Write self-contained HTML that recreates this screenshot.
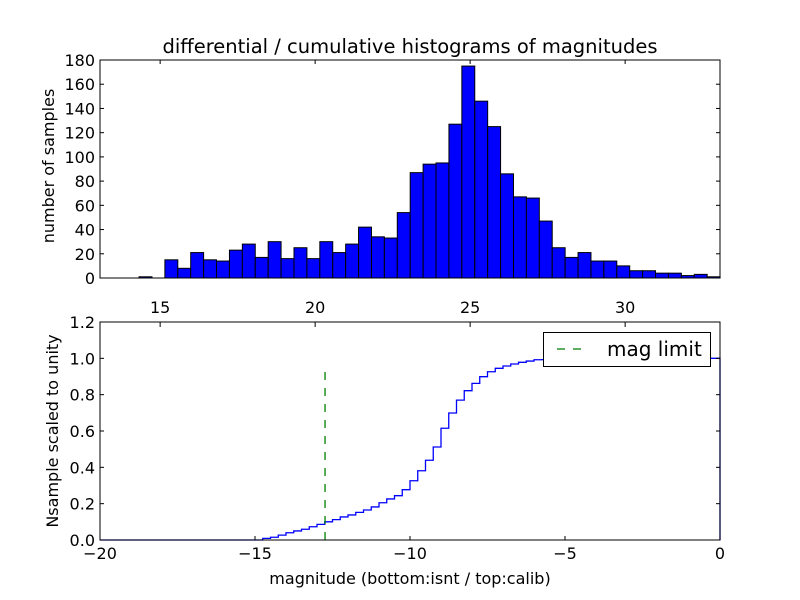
<!DOCTYPE html>
<html><head><meta charset="utf-8"><style>
html,body{margin:0;padding:0;background:#fff}
svg{display:block;font-family:"DejaVu Sans","Liberation Sans",sans-serif}
</style></head><body>
<svg id="chart" width="800" height="600" viewBox="0 0 800 600" xmlns="http://www.w3.org/2000/svg">
<rect width="800" height="600" fill="#fff"/>
<g id="topgrp"></g>
<g id="botgrp"></g>
</svg>
<script>
// top histogram data
const histBinStart = 14.32;
const histBinWidth = 0.4165;
const histCounts = [1,0,15,8,21,15,14,23,28,17,30,16,25,16,30,21,28,42,34,33,54,87,94,95,127,175,146,125,86,67,66,47,25,17,21,14,14,10,6,6,4,4,2,3,1];
const topYTicks = [0,20,40,60,80,100,120,140,160,180];
const calibTicks = [15,20,25,30];
// bottom cumulative data
const cumStart = -14.75;
const cumStep = 0.25;
const cumValues = [0.009,0.015,0.027,0.04,0.05,0.059,0.073,0.086,0.10,0.112,0.127,0.138,0.152,0.165,0.182,0.205,0.226,0.244,0.277,0.326,0.381,0.439,0.512,0.615,0.699,0.77,0.822,0.862,0.899,0.926,0.945,0.958,0.969,0.978,0.985,0.992,0.993,0.994,0.995,0.995,0.996,0.996,0.997,0.997,0.997,0.998,0.998,0.998,0.999,0.999,0.999,0.999,1.0,1.0,1.0,1.0,1.0,1.0,1.0];
const botXTicks = [-20,-15,-10,-5,0];
const botYTicks = [0.0,0.2,0.4,0.6,0.8,1.0,1.2];
const magLimit = -12.74;
const magLimitTop = 0.965;

const SVGNS = 'http://www.w3.org/2000/svg';
function mk(tag, attrs, parent, text){
  const e = document.createElementNS(SVGNS, tag);
  for (const k in attrs) e.setAttribute(k, attrs[k]);
  if (text !== undefined) e.textContent = text;
  parent.appendChild(e);
  return e;
}
const AL = 100, AR = 720;
const TICKFS = 16, LABFS = 16;
// top axes
const tT = 60, tB = 278;
const calX0 = 13.06, calX1 = 33.06;
const cx = v => AL + (v - calX0) / (calX1 - calX0) * (AR - AL);
const ty = v => tB - v / 180 * (tB - tT);
const gTop = document.getElementById('topgrp');
const bars = mk('g', {}, gTop);


histCounts.forEach((c, i) => {
  const x0 = cx(histBinStart + i * histBinWidth), x1 = cx(histBinStart + (i + 1) * histBinWidth);
  const r = mk('rect', {x: x0, y: ty(c), width: x1 - x0, height: tB - ty(c), fill: '#0000ff', stroke: '#000', 'stroke-width': 1}, bars);
  
  
});
const tf = mk('rect', {x: AL, y: tT, width: AR - AL, height: tB - tT, fill: 'none', stroke: '#000', 'stroke-width': 1}, gTop);


topYTicks.forEach(v => {
  const y = ty(v);
  mk('line', {x1: AL, x2: AL + 4, y1: y, y2: y, stroke: '#000'}, gTop);
  mk('line', {x1: AR, x2: AR - 4, y1: y, y2: y, stroke: '#000'}, gTop);
  const t = mk('text', {x: AL - 5, y: y + 6, 'text-anchor': 'end', 'font-size': TICKFS}, gTop, String(v));
  
  
});
calibTicks.forEach(v => {
  const x = cx(v);
  mk('line', {x1: x, x2: x, y1: tT, y2: tT + 4, stroke: '#000'}, gTop);
});
const title = mk('text', {x: 410, y: 53, 'text-anchor': 'middle', 'font-size': 19.5}, gTop, 'differential / cumulative histograms of magnitudes');


const tyl = mk('text', {transform: 'translate(54,166) rotate(-90)', 'text-anchor': 'middle', 'font-size': LABFS}, gTop, 'number of samples');



// bottom axes
const bT = 322, bB = 540;
const bx = v => AL + (v + 20) / 20 * (AR - AL);
const by = v => bB - v / 1.2 * (bB - bT);
const gBot = document.getElementById('botgrp');
let pathD = 'M' + bx(-20) + ',' + by(0) + ' L' + bx(cumStart) + ',' + by(0);
cumValues.forEach((v, i) => {
  const x0 = bx(cumStart + i * cumStep), x1 = bx(cumStart + (i + 1) * cumStep);
  pathD += ' L' + x0 + ',' + by(v) + ' L' + Math.min(x1, AR) + ',' + by(v);
});
pathD += ' L' + AR + ',' + by(0);
const cl = mk('path', {d: pathD, fill: 'none', stroke: '#0000ff', 'stroke-width': 1.3}, gBot);


const ml = mk('line', {x1: bx(magLimit), x2: bx(magLimit), y1: by(0), y2: by(magLimitTop), stroke: '#007f00', 'stroke-width': 1.3, 'stroke-dasharray': '8,8'}, gBot);


const bf = mk('rect', {x: AL, y: bT, width: AR - AL, height: bB - bT, fill: 'none', stroke: '#000', 'stroke-width': 1}, gBot);


botXTicks.forEach(v => {
  const x = bx(v);
  mk('line', {x1: x, x2: x, y1: bB, y2: bB - 4, stroke: '#000'}, gBot);
  const t = mk('text', {x: x, y: bB + 19, 'text-anchor': 'middle', 'font-size': TICKFS}, gBot, v < 0 ? '\u2212' + Math.abs(v) : String(v));
  
  
});
calibTicks.forEach(v => {
  const x = cx(v);
  mk('line', {x1: x, x2: x, y1: bT, y2: bT + 5, stroke: '#000'}, gBot);
  const t = mk('text', {x: x, y: bT - 9, 'text-anchor': 'middle', 'font-size': TICKFS}, gBot, String(v));
  
  
});
botYTicks.forEach(v => {
  const y = by(v);
  mk('line', {x1: AL, x2: AL + 4, y1: y, y2: y, stroke: '#000'}, gBot);
  mk('line', {x1: AR, x2: AR - 4, y1: y, y2: y, stroke: '#000'}, gBot);
  const t = mk('text', {x: AL - 5, y: y + 6, 'text-anchor': 'end', 'font-size': TICKFS}, gBot, v.toFixed(1));
  
  
});
const bxl = mk('text', {x: 410, y: 584, 'text-anchor': 'middle', 'font-size': LABFS}, gBot, 'magnitude (bottom:isnt / top:calib)');


const byl = mk('text', {transform: 'translate(58,431) rotate(-90)', 'text-anchor': 'middle', 'font-size': LABFS}, gBot, 'Nsample scaled to unity');


// legend
const lg = mk('g', {}, gBot);


mk('rect', {x: 543.5, y: 332.5, width: 167, height: 34, fill: '#fff', stroke: '#000', 'stroke-width': 1}, lg);
mk('line', {x1: 557, x2: 583, y1: 349, y2: 349, stroke: '#007f00', 'stroke-width': 1.3, 'stroke-dasharray': '8,8'}, lg);
mk('text', {x: 607, y: 356, 'font-size': 20}, lg, 'mag limit');
</script>
</body></html>
